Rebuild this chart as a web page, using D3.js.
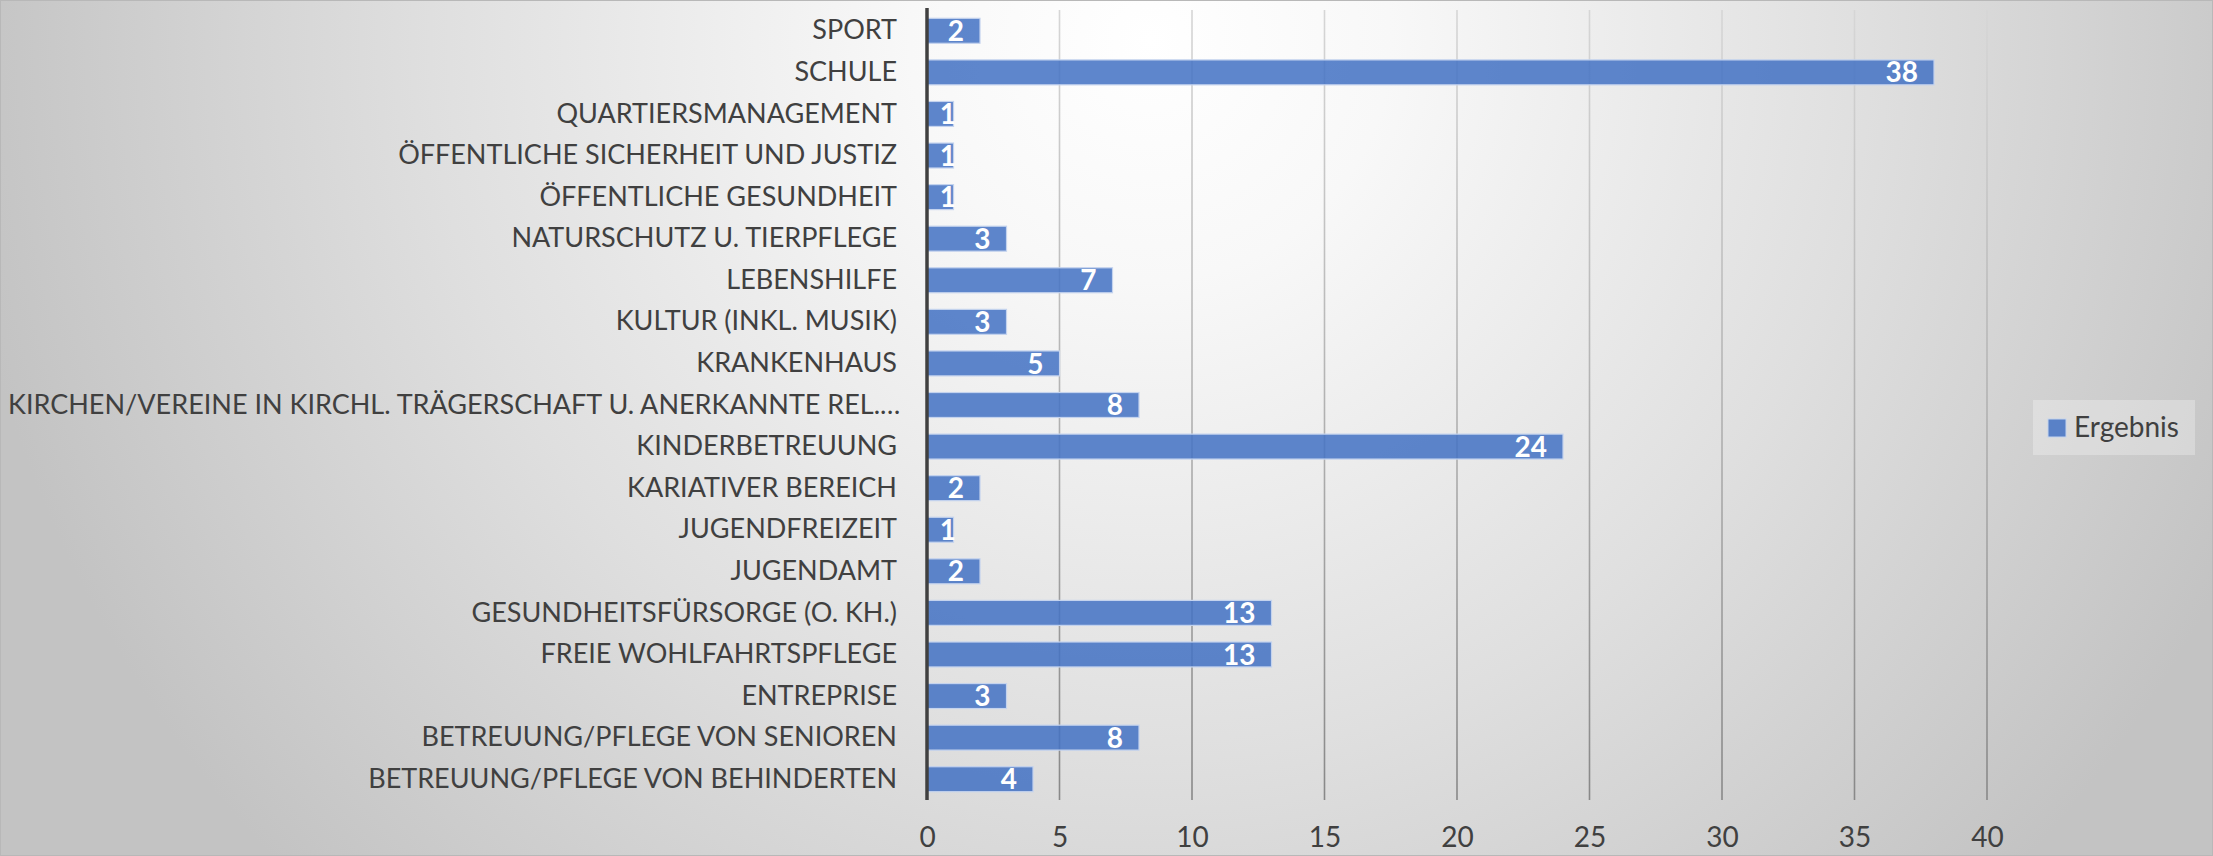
<!DOCTYPE html>
<html lang="de">
<head>
<meta charset="utf-8">
<title>Ergebnis</title>
<script src="https://cdnjs.cloudflare.com/ajax/libs/d3/7.8.5/d3.min.js"></script>
<style>
  html, body { margin: 0; padding: 0; }
  body { width: 2213px; height: 856px; overflow: hidden; }
  svg { display: block; font-family: Lato, "Open Sans", sans-serif; }
</style>
</head>
<body>
<svg id="chart" width="2213" height="856"></svg>
<script>
// categories, top to bottom as in the chart
const categories = [
  "SPORT",
  "SCHULE",
  "QUARTIERSMANAGEMENT",
  "ÖFFENTLICHE SICHERHEIT UND JUSTIZ",
  "ÖFFENTLICHE GESUNDHEIT",
  "NATURSCHUTZ U. TIERPFLEGE",
  "LEBENSHILFE",
  "KULTUR (INKL. MUSIK)",
  "KRANKENHAUS",
  "KIRCHEN/VEREINE IN KIRCHL. TRÄGERSCHAFT U. ANERKANNTE REL.…",
  "KINDERBETREUUNG",
  "KARIATIVER BEREICH",
  "JUGENDFREIZEIT",
  "JUGENDAMT",
  "GESUNDHEITSFÜRSORGE (O. KH.)",
  "FREIE WOHLFAHRTSPFLEGE",
  "ENTREPRISE",
  "BETREUUNG/PFLEGE VON SENIOREN",
  "BETREUUNG/PFLEGE VON BEHINDERTEN"
]
const ergebnis = [2, 38, 1, 1, 1, 3, 7, 3, 5, 8, 24, 2, 1, 2, 13, 13, 3, 8, 4]
const xTicks = [0, 5, 10, 15, 20, 25, 30, 35, 40]
const seriesName = "Ergebnis"

const W = 2213, H = 856
const plot = { left: 927, right: 1987, top: 10, bottom: 800 }
const barColor = "#4472C4"
const textColor = "#404040"

const svg = d3.select("#chart")
const defs = svg.append("defs")

// background: soft radial gradient, white near the top middle
let bg = defs.append("radialGradient")
  .attr("id", "bg")
  .attr("gradientUnits", "userSpaceOnUse")
  .attr("cx", 1150).attr("cy", 40).attr("r", 1200)
bg.append("stop").attr("offset", 0).attr("stop-color", "#ffffff")
bg.append("stop").attr("offset", 0.2).attr("stop-color", "#f8f8f8")
bg.append("stop").attr("offset", 0.6).attr("stop-color", "#dfdfdf")
bg.append("stop").attr("offset", 1).attr("stop-color", "#c3c3c3")

// gridlines get darker toward the bottom
let gg = defs.append("linearGradient")
  .attr("id", "grid")
  .attr("gradientUnits", "userSpaceOnUse")
  .attr("x1", 0).attr("y1", plot.top).attr("x2", 0).attr("y2", plot.bottom)
gg.append("stop").attr("offset", 0).attr("stop-color", "#d6d6d6")
gg.append("stop").attr("offset", 0.5).attr("stop-color", "#b2b2b2")
gg.append("stop").attr("offset", 1).attr("stop-color", "#888888")

svg.append("rect")
  .attr("width", W).attr("height", H)
  .attr("fill", "url(#bg)")
  .attr("stroke", "#b8b8b8").attr("stroke-width", 2)

const x = d3.scaleLinear().domain([0, 40]).range([plot.left, plot.right])
const y = d3.scaleBand().domain(categories).range([plot.top, plot.bottom]).paddingInner(0.4).paddingOuter(0.2)

// vertical gridlines
svg.append("g")
  .selectAll("line")
  .data(xTicks.filter(d => d > 0))
  .join("line")
  .attr("x1", d => x(d)).attr("x2", d => x(d))
  .attr("y1", plot.top).attr("y2", plot.bottom)
  .attr("stroke", "url(#grid)")
  .attr("stroke-width", 1.6)

// x tick labels (axis without domain/tick lines)
let xAxis = svg.append("g")
  .attr("transform", `translate(0,${plot.bottom})`)
  .call(d3.axisBottom(x).tickValues(xTicks).tickSize(0).tickPadding(27))
xAxis.select(".domain").remove()
xAxis.selectAll("text")
  .attr("font-family", "Lato, sans-serif")
  .attr("font-size", 28)
  .attr("fill", textColor)

// bars
svg.append("g")
  .selectAll("rect")
  .data(categories)
  .join("rect")
  .attr("x", x(0))
  .attr("y", d => y(d))
  .attr("width", (d, i) => x(ergebnis[i]) - x(0))
  .attr("height", y.bandwidth())
  .attr("fill", barColor)
  .attr("fill-opacity", 0.86)
  .attr("stroke", "#c4d3ee")
  .attr("stroke-width", 1.2)

// category labels
let yAxis = svg.append("g")
  .attr("transform", `translate(${plot.left},0)`)
  .call(d3.axisLeft(y).tickSize(0).tickPadding(30))
yAxis.select(".domain").remove()
yAxis.selectAll("text")
  .attr("font-family", "Lato, sans-serif")
  .attr("font-size", 27)
  .attr("fill", textColor)
  .each(function() {
    // labels too wide for the gap start from the left edge instead
    let w = this.getComputedTextLength()
    let start = plot.left - 30 - w
    if (start < 8) {
      d3.select(this).attr("text-anchor", "start").attr("x", 8 - plot.left)
    }
  })

// vertical axis line at 0
svg.append("line")
  .attr("x1", x(0)).attr("x2", x(0))
  .attr("y1", plot.top - 2).attr("y2", plot.bottom)
  .attr("stroke", "#404040")
  .attr("stroke-width", 3.5)

// value labels inside bar ends
svg.append("g")
  .selectAll("text")
  .data(categories)
  .join("text")
  .attr("x", (d, i) => Math.max(x(ergebnis[i]) - 16, x(0) + 29))
  .attr("y", d => y(d) + y.bandwidth() / 2)
  .attr("dy", "0.36em")
  .attr("text-anchor", "end")
  .attr("font-family", "Lato, sans-serif")
  .attr("font-weight", "bold")
  .attr("font-size", 28)
  .attr("fill", "#ffffff")
  .text((d, i) => ergebnis[i])

// legend
let legend = svg.append("g")
legend.append("rect")
  .attr("x", 2033).attr("y", 400)
  .attr("width", 162).attr("height", 55)
  .attr("fill", "#ffffff").attr("fill-opacity", 0.28)
legend.append("rect")
  .attr("x", 2048).attr("y", 419)
  .attr("width", 18).attr("height", 18)
  .attr("fill", barColor).attr("fill-opacity", 0.86)
  .attr("stroke", "#c4d3ee").attr("stroke-width", 1)
legend.append("text")
  .attr("x", 2074).attr("y", 437)
  .attr("font-size", 28)
  .attr("fill", textColor)
  .text(seriesName)
</script>
</body>
</html>
